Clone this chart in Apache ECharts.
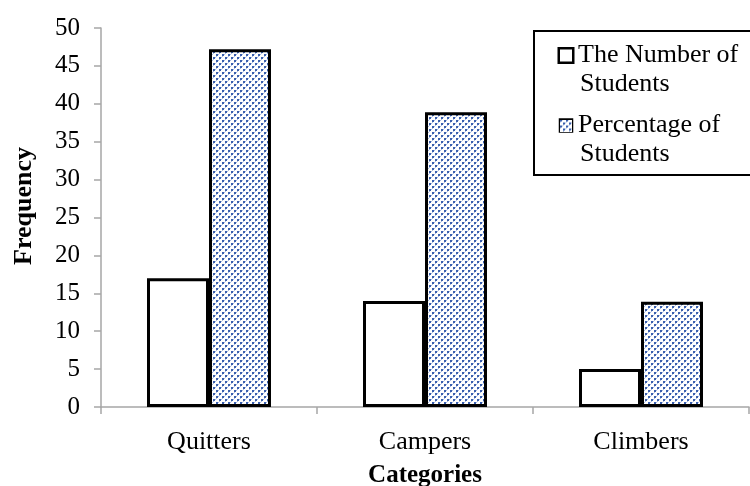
<!DOCTYPE html>
<html><head><meta charset="utf-8">
<script src="https://cdn.jsdelivr.net/npm/echarts@6/dist/echarts.min.js"></script>
<style>html,body{margin:0;padding:0;background:#fff}#c{width:750px;height:486px}</style>
</head><body><div id="c"></div>
<script>
const categories = ['Quitters', 'Campers', 'Climbers'];
const numberOfStudents = [17, 14, 5];
const percentageOfStudents = [47.2, 38.9, 13.9];
const seriesNames = ['The Number of Students', 'Percentage of Students'];
const legendLines = [['The Number of', 'Students'], ['Percentage of', 'Students']];
const yTicks = {min: 0, max: 50, interval: 5};

function makePattern(w, h) {
  const c = document.createElement('canvas');
  c.width = w; c.height = h;
  const g = c.getContext('2d');
  g.fillStyle = '#ffffff'; g.fillRect(0, 0, w, h);
  for (let y = 0; y < h; y += 6) {
    for (let x = 0; x < w; x += 6) {
      g.fillStyle = '#3a5fae';
      g.fillRect(x, y, 2, 2);
      g.fillRect(x + 3, y + 3, 2, 2);
      g.fillStyle = '#a9bbe0';
      g.fillRect(x + 2, y, 1, 1); g.fillRect(x, y + 2, 1, 1);
      g.fillRect(x + 5, y + 3, 1, 1); g.fillRect(x + 3, y + 5, 1, 1);
    }
  }
  return c;
}
const pattern = {image: makePattern(6, 6), repeat: 'repeat'};
const serif = '"Liberation Serif", "Times New Roman", serif';

const chart = echarts.init(document.getElementById('c'), null, {renderer: 'canvas'});
chart.setOption({
  animation: false,
  backgroundColor: '#fff',
  grid: {left: 101, right: 1, top: 28, bottom: 79, outerBoundsMode: 'none', containLabel: false},
  legend: {
    orient: 'vertical',
    left: 534, top: 31,
    padding: [10, 30, 6, 21],
    borderColor: '#000', borderWidth: 2,
    itemWidth: 0, itemHeight: 1,
    icon: 'none',
    itemGap: 12,
    formatter: function (n) {
      const i = seriesNames.indexOf(n);
      const box = i === 0 ? 'b0' : 'b1';
      return '{' + box + '|}{g|}{t|' + legendLines[i][0] + '}\n{sp|}{t|' + legendLines[i][1] + '}';
    },
    textStyle: {
      fontFamily: serif, fontSize: 26, color: '#000', lineHeight: 29,
      rich: {
        t: {fontFamily: serif, fontSize: 26, color: '#000', lineHeight: 29},
        b0: {width: 12, height: 12, borderColor: '#000', borderWidth: 2.5, backgroundColor: '#fff'},
        b1: {width: 12, height: 12, borderColor: '#000', borderWidth: 2.5, backgroundColor: {image: makePattern(12, 12)}},
        g: {width: 6, height: 10},
        sp: {width: 20, height: 10}
      }
    },
    data: seriesNames
  },
  xAxis: {
    type: 'category',
    data: categories,
    name: 'Categories',
    nameLocation: 'middle',
    nameGap: 56,
    nameTextStyle: {fontFamily: serif, fontSize: 25, fontWeight: 'bold', color: '#000'},
    axisLine: {lineStyle: {color: '#a6a6a6', width: 1.5}},
    axisTick: {show: true, length: 7, lineStyle: {color: '#a6a6a6', width: 1.5}},
    axisLabel: {fontFamily: serif, fontSize: 26, color: '#000', margin: 22}
  },
  yAxis: {
    type: 'value',
    min: yTicks.min, max: yTicks.max, interval: yTicks.interval,
    name: 'Frequency',
    nameLocation: 'middle',
    nameGap: 64,
    nameTextStyle: {fontFamily: serif, fontSize: 26, fontWeight: 'bold', color: '#000', padding: [0, 0, 0, 23]},
    axisLine: {show: true, lineStyle: {color: '#a6a6a6', width: 1.5}},
    axisTick: {show: true, length: 7, lineStyle: {color: '#a6a6a6', width: 1.5}},
    splitLine: {show: false},
    axisLabel: {fontFamily: serif, fontSize: 25, color: '#000', margin: 21}
  },
  series: [
    {
      name: seriesNames[0], type: 'bar', data: numberOfStudents,
      barWidth: 62, barGap: '0%',
      itemStyle: {color: '#fff', borderColor: '#000', borderWidth: 3}
    },
    {
      name: seriesNames[1], type: 'bar', data: percentageOfStudents,
      barWidth: 62,
      itemStyle: {color: pattern, borderColor: '#000', borderWidth: 3}
    }
  ]
});
</script></body></html>
